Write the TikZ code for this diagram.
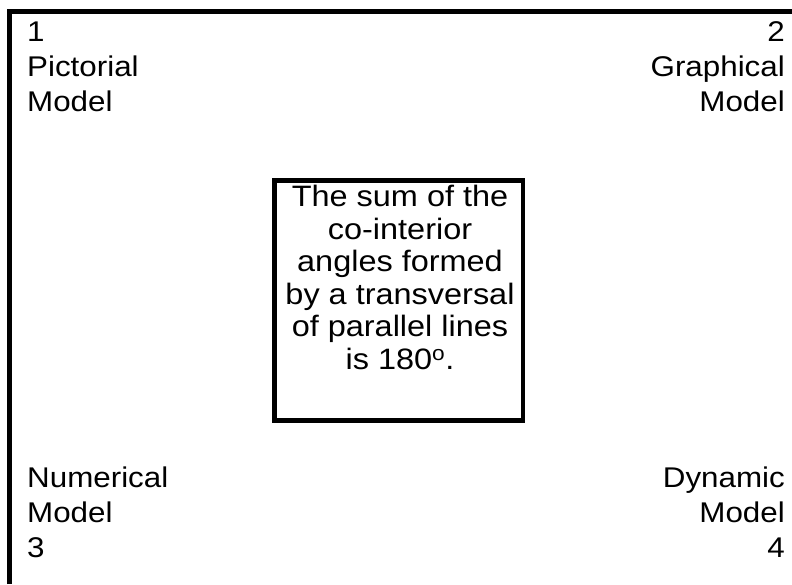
\documentclass[tikz,border=0pt]{standalone}
\usepackage{fontspec}
\setmainfont{Liberation Sans}[FakeStretch=1.1]
\begin{document}
\begin{tikzpicture}[x=1pt, y=1pt,
  model/.style={inner sep=0pt, font=\fontsize{28.5}{35}\selectfont},
  frame/.style={line width=4.4pt}]
  \useasboundingbox (0,0) rectangle (792,584);
  \draw[frame] (9.5,0) -- (9.5,572.3) -- (792,572.3);
  \node[model, anchor=north west, align=left] (pictorial) at (27,562.3) {1\\Pictorial\\Model};
  \node[model, anchor=north east, align=right] (graphical) at (785,562.3) {2\\Graphical\\Model};
  \node[model, anchor=south west, align=left] (numerical) at (27,26) {Numerical\\Model\\3};
  \node[model, anchor=south east, align=right] (dynamic) at (785,26) {Dynamic\\Model\\4};
  \node[draw, frame, minimum width=248.5pt, minimum height=240pt] (box) at (398.75,283.5) {};
  \node[inner sep=0pt, anchor=north, align=center, font=\fontsize{29.5}{32.6}\selectfont] (statement) at (400,399)
    {The sum of the\\co-interior\\angles formed\\by a transversal\\of parallel lines\\is 180\textsuperscript{o}.};
\end{tikzpicture}
\end{document}
